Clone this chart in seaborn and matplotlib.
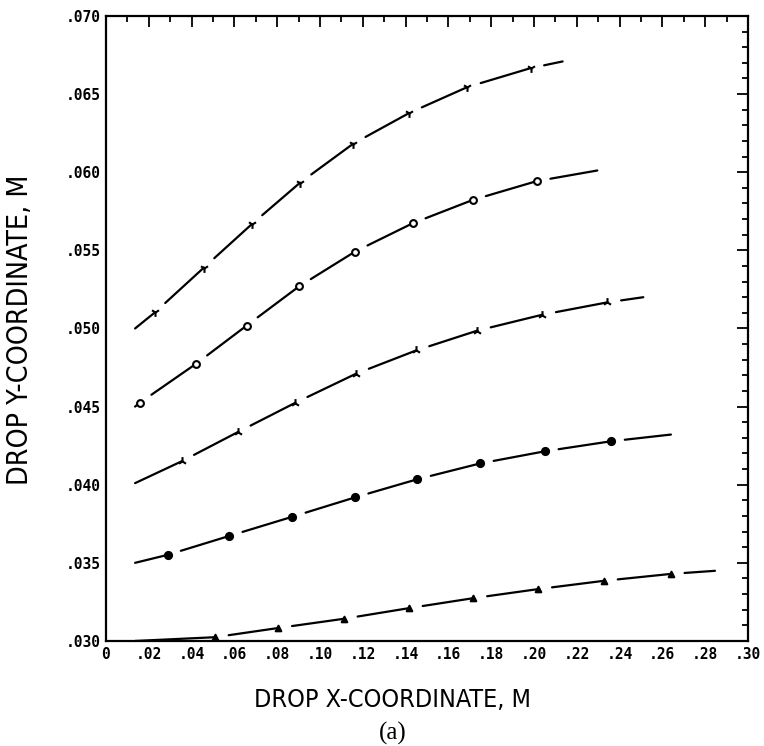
import matplotlib
matplotlib.use("Agg")
import matplotlib.pyplot as plt
import seaborn as sns
import pandas as pd
from matplotlib.ticker import MultipleLocator

# Veri: her eğri için başlangıç, işaretli noktalar ve bitiş
start_x = [0.0136, 0.0136, 0.0136, 0.0136, 0.0136]
start_y = [0.0500, 0.0450, 0.0401, 0.0350, 0.0300]

c1_x = [0.0229, 0.0458, 0.0681, 0.0907, 0.1156, 0.1417, 0.1689, 0.1984]
c1_y = [0.05103, 0.05390, 0.05667, 0.05933, 0.06183, 0.06379, 0.06545, 0.06666]
c2_x = [0.0159, 0.0421, 0.0657, 0.0902, 0.1164, 0.1433, 0.1713, 0.2013]
c2_y = [0.04525, 0.04774, 0.05018, 0.05269, 0.05492, 0.05673, 0.05822, 0.05943]
c3_x = [0.0354, 0.0618, 0.0883, 0.1168, 0.1449, 0.1735, 0.2039, 0.2343]
c3_y = [0.04150, 0.04338, 0.04523, 0.04710, 0.04859, 0.04986, 0.05088, 0.05167]
c4_x = [0.0288, 0.0576, 0.0871, 0.1164, 0.1455, 0.1748, 0.2051, 0.2360]
c4_y = [0.03551, 0.03672, 0.03795, 0.03919, 0.04035, 0.04136, 0.04214, 0.04278]
c5_x = [0.0509, 0.0805, 0.1112, 0.1416, 0.1717, 0.2020, 0.2327, 0.2639]
c5_y = [0.03024, 0.03083, 0.03142, 0.03210, 0.03274, 0.03332, 0.03385, 0.03429]

end_x = [0.2134, 0.2296, 0.2511, 0.2640, 0.2846]
end_y = [0.06709, 0.06011, 0.05200, 0.04321, 0.03449]

x_ticks = [0, .02, .04, .06, .08, .10, .12, .14, .16, .18, .20, .22, .24, .26, .28, .30]
x_labels = ["0", ".02", ".04", ".06", ".08", ".10", ".12", ".14", ".16", ".18",
            ".20", ".22", ".24", ".26", ".28", ".30"]
y_ticks = [.030, .035, .040, .045, .050, .055, .060, .065, .070]
y_labels = [".030", ".035", ".040", ".045", ".050", ".055", ".060", ".065", ".070"]

curves = [(c1_x, c1_y), (c2_x, c2_y), (c3_x, c3_y), (c4_x, c4_y), (c5_x, c5_y)]
markers = ["1", "o", "2", "o", "^"]
faces = ["black", "white", "black", "black", "black"]
msizes = [40, 24, 40, 26, 16]

sns.set_style("white")
plt.rcParams['font.family'] = ['DejaVu Sans']
plt.rcParams['text.color'] = 'black'

fig = plt.figure(figsize=(7.64, 7.46), dpi=100)
ax = fig.add_axes([0.1387, 0.1408, 0.8403, 0.8378])

for i, (mx, my) in enumerate(curves):
    lx = [start_x[i]] + mx + [end_x[i]]
    ly = [start_y[i]] + my + [end_y[i]]
    # çizgi parçaları: işaretten sonra küçük bir boşluk
    for k in range(len(lx) - 1):
        gap = 0 if k == 0 else 10
        ax.annotate("", xy=(lx[k + 1], ly[k + 1]), xytext=(lx[k], ly[k]),
                    arrowprops=dict(arrowstyle="-", color="black", lw=1.6,
                                    shrinkA=gap, shrinkB=0))
    df = pd.DataFrame({"x": mx, "y": my})
    sns.scatterplot(data=df, x="x", y="y", ax=ax, marker=markers[i], s=msizes[i],
                    color="black", facecolor=faces[i], edgecolor="black",
                    linewidth=1.5, zorder=3)

ax.set_xlim(0, 0.30)
ax.set_ylim(0.030, 0.070)
ax.set_xticks(x_ticks)
ax.set_xticklabels(x_labels)
ax.set_yticks(y_ticks)
ax.set_yticklabels(y_labels)
ax.xaxis.set_minor_locator(MultipleLocator(0.01))
ax.yaxis.set_minor_locator(MultipleLocator(0.001))
ax.tick_params(which="both", direction="in", top=True, right=True, width=1.3,
               colors="black")
ax.tick_params(which="major", length=8, pad=4)
ax.tick_params(which="minor", length=4)
for lab in ax.get_xticklabels() + ax.get_yticklabels():
    lab.set_fontfamily("DejaVu Sans Mono")
    lab.set_fontweight("bold")
    lab.set_fontsize(10.5)
for sp in ax.spines.values():
    sp.set_linewidth(1.6)
    sp.set_color("black")
ax.set_xlabel("")
ax.set_ylabel("")

fig.text(392 / 764, 1 - 700 / 746, "DROP X-COORDINATE, M", ha="center", va="center",
         fontsize=18, fontstretch="condensed", color="black")
fig.text(393 / 764, 1 - 733 / 746, "(a)", ha="center", va="center",
         fontsize=18, family=["Liberation Serif", "DejaVu Serif"], color="black")
fig.text(20 / 764, 1 - 330 / 746, "DROP Y-COORDINATE, M", ha="center", va="center",
         rotation=90, fontsize=20.5, fontstretch="condensed", color="black")

fig.savefig("out.png", dpi=100)
